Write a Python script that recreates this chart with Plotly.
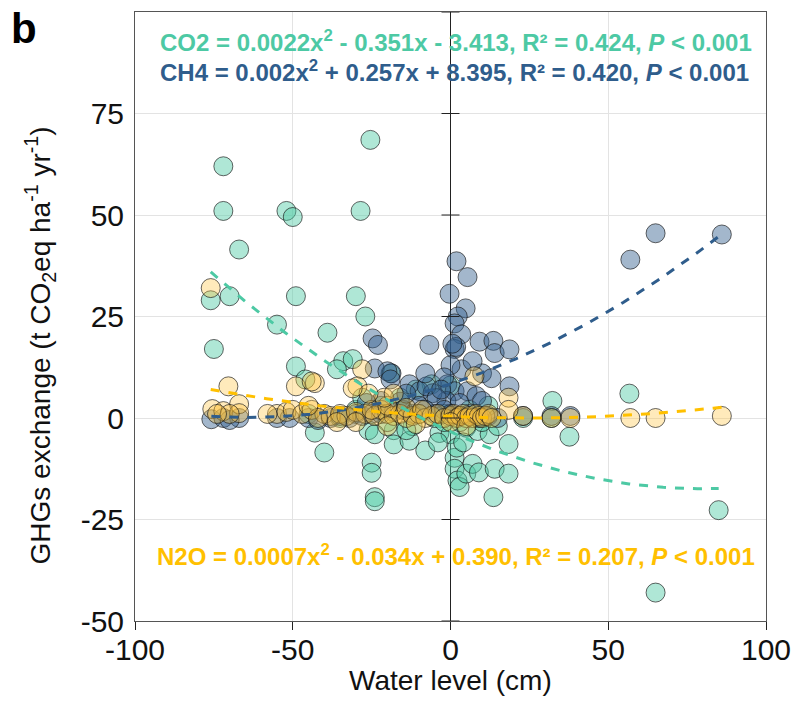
import numpy as np
import plotly.graph_objects as go

# Water level (cm) vs GHG exchange (t CO2eq ha-1 yr-1)
co2_x = [-72, -72, -52, -50, -28.5, -25.4, -67, -76, -70, -49, -30, -27, -75, -55, -39, -40,
         -49, -46, -43, -25, -25, -24, -24, -34, -31, -36, -18, -18, -13, -8, -3.5, -19, -6,
         0, 5, 8.6, 12.4, 1.3, 1.3, 2.2, 2.9, 5, 7, 9, 2, 18.4, 14, 18.4, 13.6, 37.7, 32.3,
         56.7, 85, 65, -30, -22, -15, -12, -10, -5, -2, 3, 6, 10, 15, -20, -26, -35, -45,
         -16, -11, 0, -2, -28, 12, 23, 32, -24, -14, -4, 4]
co2_y = [62, 51, 51, 49.5, 51, 68.5, 41.5, 29, 30, 30, 30, 25, 17, 23, 21, -8.5,
         12.7, 9.5, -3.6, -11, -13.5, -19.5, -20.5, 14, 14.5, 12, -3, -6.5, -5.6, -8, -3.7, 11, 8.3,
         -4, -2.4, -3.2, -4, -9.8, -12.5, -15.4, -17, -13.7, -11.3, -13.4, -7.3, -6.4, -12.5, -13.7, -19.5, -4.6, 4.2,
         6, -22.7, -43, 2, 3, 2, -2, 1, 0, -1, -1, 2, -1, -2, -1, -3, 0, 1,
         5, 7, 8, 1, 5, 3, 0, 0, -4, -3, -6, -6]

ch4_x = [65, 57, 86, 1.9, 5.4, -0.3, 4.8, 2.3, 1.3, 3.4, 1.3, 1.8, 9.2, 13.6, 14, 18.7, 3.5, 10,
         13, 18.7, -1, 1.3, 5.4, 8.2, -1.3, 2.9, 10, 32, 38, 23, -24.7, -23, -24, -18.7, -13,
         -9.8, -5.7, -22, -26.6, -30, -6.7, 0.6, -20, -19, -7.6, -4.4, -75.8, -72, -67, -70,
         -55, -51, -45, -42, -38, -35, -32, -28, -25, -22, -18, -15, -12, -10, -8, -5, -2, 0,
         3, 6, 9, 12, 15, -16, -14, 0, -2, 7, -8, -3]
ch4_y = [45.5, 39, 45.2, 38.6, 34.7, 30.6, 27, 25, 23.3, 20.6, 17, 17.5, 18.8, 19, 16, 16.9, 12, 11,
         9.8, 7.8, 8.3, 6.6, 6.6, 5.4, 4.2, 3.7, 4.2, 0.5, 0.5, 0.5, 19.6, 18, 12.2, 11, 8.3,
         6.6, 6.1, 4.2, 3.7, 1, 18, 18.3, 11.5, 9.5, 7.8, 4.9, -0.3, 0, 0, -0.5,
         0, 0, 0, -0.5, 0, 0.5, 0, 0.5, 1, 1, 1.5, 2, 1, 3, 2, 1, 2, 1,
         0.5, 1, 0, 0.5, 0, 4, 6, 13, 10, 14, 11, 7]

n2o_x = [-76, -70.4, -75.5, -72, -67, -67, -49, -43, -28, -29.5, 57, 65, 86, 38, 32, 23, 18.4,
         18.4, 7.6, -55, -52, -50, -47, -44, -40, -38, -35, -33, -30, -27, -24, -22, -20, -18,
         -16, -14, -12, -10, -8, -6, -4, -2, 0, 1, 2, 3, 4, 5, 6, 7, 8, 9, 10, 11, 12, 13,
         -25, -20, -14, -9, -21, -18, -26, -36, -30, -20, 0, 5, -11, -70, -74, -42, -58, -45,
         -31, -44]
n2o_y = [32, 7.8, 2.2, 1.7, 3.4, 1.2, 7.8, 8.6, 12, 7.8, 0, 0, 0.5, 0, 0, 0.5, 5,
         2, 10.3, 1, 1.5, 2, 1, 2, 1, 0.5, 1, 0.5, 1.5, 1, 0.5, 2, 1, 0.5,
         1, 0, 0.5, 1, 0, 0.5, 1, 0, 0.5, 1, 0, 0.5, 1, 0, 0.5, 0, 1, 0.5, 0, 0.5, 1, 0,
         2, 3, 2.5, 2, 5, 6, 6, -1, -1, -2, -1, -2, -1.5, 1, 1, 0, 1, 3,
         7.3, 9]

# Quadratic fit coefficients (a, b, c) for y = a*x^2 + b*x + c
co2_fit = (0.0022, -0.351, -3.413)
ch4_fit = (0.002, 0.257, 8.395)
n2o_fit = (0.0007, -0.034, 0.390)

x_ticks = [-100, -50, 0, 50, 100]
y_ticks = [-50, -25, 0, 25, 50, 75]

CO2_C = "#4DC9A4"
CH4_C = "#2F5D8C"
N2O_C = "#FFC000"

FONT = "Liberation Sans, Arial, sans-serif"

fig = go.Figure()


def add_points(xs, ys, fill):
    fig.add_trace(go.Scatter(
        x=xs, y=ys, mode="markers",
        marker=dict(size=19, color=fill, line=dict(color="rgba(20,20,20,0.65)", width=1)),
        showlegend=False, hoverinfo="skip"))


def add_fit(xs, coef, color):
    a, b, c = coef
    xf = np.linspace(min(xs), max(xs), 120)
    yf = a * xf ** 2 + b * xf + c
    fig.add_trace(go.Scatter(
        x=xf, y=yf, mode="lines",
        line=dict(color=color, width=3, dash="dash"),
        showlegend=False, hoverinfo="skip"))


add_points(co2_x, co2_y, "rgba(77,201,164,0.45)")
add_points(ch4_x, ch4_y, "rgba(51,96,143,0.45)")
add_points(n2o_x, n2o_y, "rgba(255,196,60,0.35)")

add_fit(co2_x, co2_fit, CO2_C)
add_fit(ch4_x, ch4_fit, CH4_C)
add_fit(n2o_x, n2o_fit, N2O_C)

# cross ticks on the vertical x = 0 line
for v in y_ticks + [100]:
    fig.add_shape(type="line", xref="x", yref="y", xsizemode="pixel", xanchor=0,
                  x0=-9, x1=9, y0=v, y1=v, line=dict(color="#222", width=1))

eq_font = dict(family=FONT, size=24)
fig.add_annotation(xref="paper", yref="paper", x=0.509, y=0.953, showarrow=False,
                   xanchor="center", yanchor="middle",
                   text=("<b>CO2 = 0.0022x<sup>2</sup> - 0.351x - 3.413, R² = 0.424, "
                         "<i>P</i> < 0.001</b>"),
                   font=dict(color=CO2_C, **eq_font))
fig.add_annotation(xref="paper", yref="paper", x=0.507, y=0.903, showarrow=False,
                   xanchor="center", yanchor="middle",
                   text=("<b>CH4 = 0.002x<sup>2</sup> + 0.257x + 8.395, R² = 0.420, "
                         "<i>P</i> < 0.001</b>"),
                   font=dict(color=CH4_C, **eq_font))
fig.add_annotation(xref="paper", yref="y", x=0.509, y=-33.7, showarrow=False,
                   xanchor="center", yanchor="middle",
                   text=("<b>N2O = 0.0007x<sup>2</sup> - 0.034x + 0.390, R² = 0.207, "
                         "<i>P</i> < 0.001</b>"),
                   font=dict(color=N2O_C, **eq_font))
fig.add_annotation(xref="paper", yref="paper", x=-0.199, y=1.014, xanchor="left",
                   yanchor="top", showarrow=False, text="<b>b</b>",
                   font=dict(family=FONT, size=42, color="black"))
# y-axis title
fig.add_annotation(xref="paper", yref="paper", x=-0.151, y=0.452, xanchor="center",
                   yanchor="middle", showarrow=False, textangle=-90,
                   text="GHGs exchange (t CO<sub>2</sub>eq ha<sup>-1</sup> yr<sup>-1</sup>)",
                   font=dict(family=FONT, size=28, color="#111"))
# x-axis title
fig.add_annotation(xref="paper", yref="paper", x=0.5, y=-0.098, xanchor="center",
                   yanchor="middle", showarrow=False, text="Water level (cm)",
                   font=dict(family=FONT, size=28, color="#111"))

fig.update_layout(
    width=795, height=717,
    margin=dict(l=135, r=29, t=12, b=96),
    paper_bgcolor="white", plot_bgcolor="white",
    font=dict(family=FONT, size=28, color="#111"),
    xaxis=dict(range=[-100, 100], tickvals=x_ticks, ticktext=[str(v) for v in x_ticks],
               ticks="outside", ticklen=8, automargin=False, ticklabelstandoff=-6,
               tickcolor="#222", showline=True, linecolor="#555", linewidth=1, mirror=True,
               showgrid=True, gridcolor="#e3e3e3", gridwidth=1,
               zeroline=True, zerolinecolor="#222", zerolinewidth=1,
               tickfont=dict(size=30)),
    yaxis=dict(range=[-50, 100], tickvals=y_ticks, ticktext=[str(v) for v in y_ticks],
               ticks="", showline=True, ticklabelstandoff=4, automargin=False,
               linecolor="#555", linewidth=1, mirror=True,
               showgrid=True, gridcolor="#e3e3e3", gridwidth=1, zeroline=False,
               tickfont=dict(size=30)),
)

fig.write_html("out.html")
